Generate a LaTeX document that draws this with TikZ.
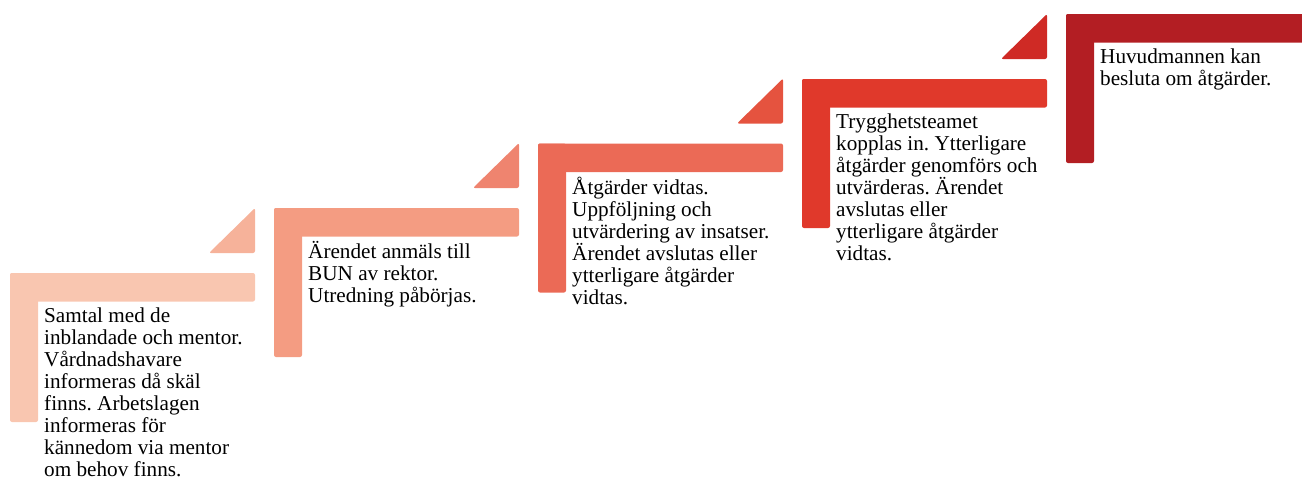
\documentclass[tikz,border=0pt]{standalone}
\usepackage{fontspec}
\setmainfont{Liberation Serif}
\usepackage{xcolor}
\frenchspacing
\definecolor{stepA}{HTML}{F9C6B0}
\definecolor{triA}{HTML}{F6B29A}
\definecolor{stepB}{HTML}{F49C82}
\definecolor{triB}{HTML}{EF846F}
\definecolor{stepC}{HTML}{EB6A56}
\definecolor{triC}{HTML}{E5533F}
\definecolor{stepD}{HTML}{E0392B}
\definecolor{triD}{HTML}{CF2A25}
\definecolor{stepE}{HTML}{B31E23}

\begin{document}
\begin{tikzpicture}[x=1pt, y=-1pt, bar/.style = {rounded corners=2pt},
    note/.style = {anchor=north west, inner sep=0pt, align=left, font=\fontsize{21.2}{22}\selectfont}]
    \clip (0,0) rectangle (1302,480);

    % step 1
    \fill[bar, stepA] (10,273) rectangle (255,301.5);
    \fill[bar, stepA] (10,273) rectangle (38,422);
    \fill[bar, triA] (209,253) -- (255,208) -- (255,253) -- cycle;
    \node[note] (1) at (44,306.5) {\rule{0pt}{16pt}Samtal med de\\inblandade och mentor.\\Vårdnadshavare\\informeras då skäl\\finns. Arbetslagen\\informeras för\\kännedom via mentor\\om behov finns.};

    % step 2
    \fill[bar, stepB] (274,208) rectangle (519,236.5);
    \fill[bar, stepB] (274,208) rectangle (302,357);
    \fill[bar, triB] (473,188) -- (519,143) -- (519,188) -- cycle;
    \node[note] (2) at (308,241.5) {\rule{0pt}{16pt}Ärendet anmäls till\\BUN av rektor.\\Utredning påbörjas.};

    % step 3
    \fill[bar, stepC] (538,143.5) rectangle (783,172);
    \fill[bar, stepC] (538,143.5) rectangle (566,292.5);
    \fill[bar, triC] (737,123.5) -- (783,78.5) -- (783,123.5) -- cycle;
    \node[note] (3) at (572,177) {\rule{0pt}{16pt}Åtgärder vidtas.\\Uppföljning och\\utvärdering av insatser.\\Ärendet avslutas eller\\ytterligare åtgärder\\vidtas.};

    % step 4
    \fill[bar, stepD] (802,79) rectangle (1047,107.5);
    \fill[bar, stepD] (802,79) rectangle (830,228);
    \fill[bar, triD] (1001,59) -- (1047,14) -- (1047,59) -- cycle;
    \node[note] (4) at (836,112.5) {\rule{0pt}{16pt}Trygghetsteamet\\kopplas in. Ytterligare\\åtgärder genomförs och\\utvärderas. Ärendet\\avslutas eller\\ytterligare åtgärder\\vidtas.};

    % step 5
    \fill[bar, stepE] (1066,14) rectangle (1311,42.5);
    \fill[bar, stepE] (1066,14) rectangle (1094,163);
    \node[note] (5) at (1100,47.5) {\rule{0pt}{16pt}Huvudmannen kan\\besluta om åtgärder.};

\end{tikzpicture}
\end{document}
